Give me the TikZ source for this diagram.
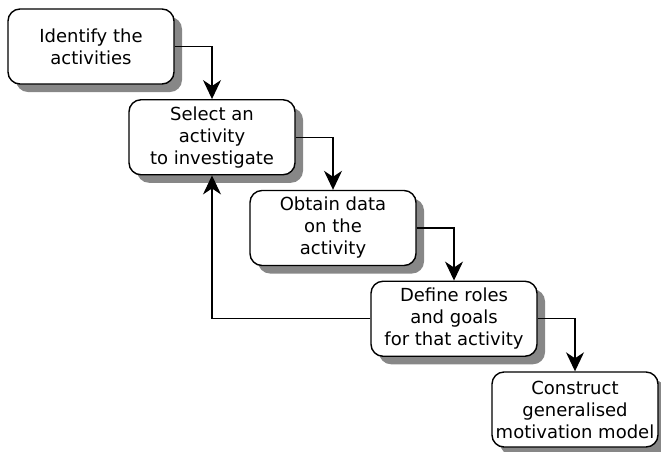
\documentclass[tikz,border=0pt]{standalone}
\usepackage{fontspec}
\setmainfont{DejaVu Sans}
\usetikzlibrary{arrows.meta}
\begin{document}
\begin{tikzpicture}[x=1pt,y=-1pt,
  stepbox/.style={draw=black, line width=1.4pt, fill=white, rounded corners=12pt,
    minimum width=166pt, minimum height=75pt, inner sep=0pt, align=center,
    font=\fontsize{18pt}{22pt}\selectfont},
  shadowbox/.style={fill=black!47, rounded corners=12pt, draw=none,
    minimum width=166pt, minimum height=75pt, inner sep=0pt},
  flow/.style={line width=1.3pt, -{Stealth[length=19pt, width=18pt, inset=6pt]}}]
  \useasboundingbox (0,0) rectangle (661,451);
  % drop shadows
  \foreach \i in {0,...,4} {
    \node[shadowbox] at ({91+121*\i+8},{46.5+90.75*\i+8}) {};
  }
  % process steps
  \node[stepbox] (s1) at (91,46.5) {Identify the\\activities};
  \node[stepbox] (s2) at (212,137.25) {Select an\\activity\\to investigate};
  \node[stepbox] (s3) at (333,228) {Obtain data\\on the\\activity};
  \node[stepbox] (s4) at (454,318.75) {Define roles\\and goals\\for that activity};
  \node[stepbox] (s5) at (575,409.5) {Construct\\generalised\\motivation model};
  % forward connectors
  \draw[flow] (s1.east) -| (s2.north);
  \draw[flow] (s2.east) -| (s3.north);
  \draw[flow] (s3.east) -| (s4.north);
  \draw[flow] (s4.east) -| (s5.north);
  % feedback loop
  \draw[flow] (s4.west) -| (s2.south);
\end{tikzpicture}
\end{document}
